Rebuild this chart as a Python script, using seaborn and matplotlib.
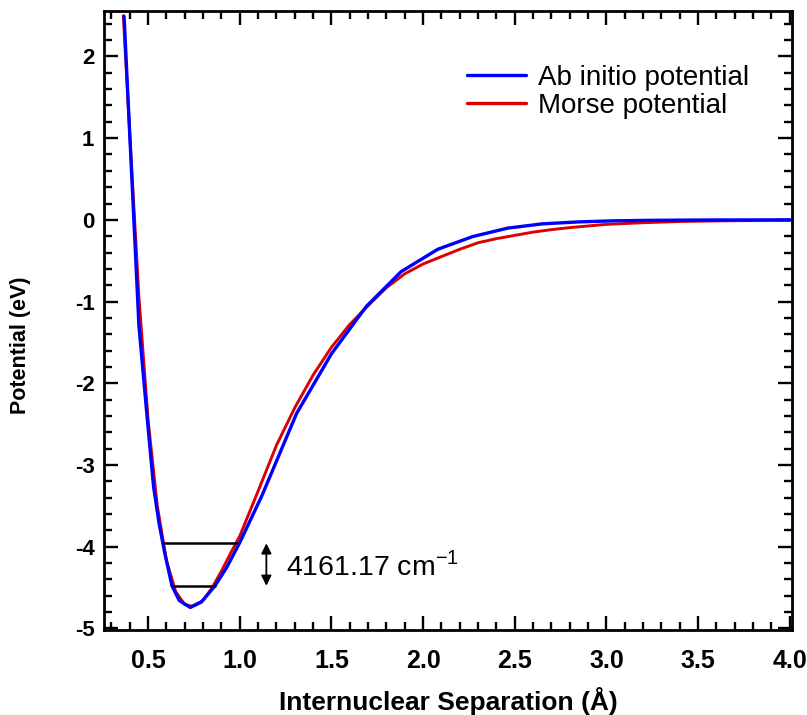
import matplotlib
matplotlib.use("Agg")
import matplotlib.pyplot as plt
from matplotlib.ticker import MultipleLocator
import seaborn as sns
import pandas as pd

# Ab initio potential (blue)
abinitio_r = [0.369, 0.45, 0.50, 0.53, 0.56, 0.59, 0.63, 0.67, 0.73, 0.79, 0.865, 0.93,
              1.00, 1.12, 1.31, 1.50, 1.69, 1.88, 2.08, 2.27, 2.46, 2.65, 2.85, 3.04,
              3.23, 3.50, 4.00]
abinitio_v = [2.49, -1.30, -2.55, -3.27, -3.72, -4.07, -4.48, -4.66, -4.745, -4.68, -4.48, -4.25,
              -3.95, -3.38, -2.37, -1.64, -1.06, -0.634, -0.36, -0.205, -0.102, -0.049, -0.025, -0.012,
              -0.006, -0.002, 0.0]

# Morse potential (red)
morse_r = [0.365, 0.40, 0.45, 0.50, 0.55, 0.60, 0.65, 0.70, 0.74, 0.80, 0.85, 0.90, 0.95,
           1.00, 1.10, 1.20, 1.30, 1.40, 1.50, 1.60, 1.70, 1.80, 1.90, 2.00, 2.10, 2.20,
           2.30, 2.40, 2.50, 2.60, 2.70, 2.80, 2.90, 3.00, 3.20, 3.40, 3.60, 3.80, 4.00]
morse_v = [2.50, 1.05, -0.95, -2.45, -3.50, -4.17, -4.55, -4.71, -4.73, -4.66, -4.50, -4.30, -4.08,
           -3.87, -3.32, -2.76, -2.30, -1.90, -1.56, -1.28, -1.05, -0.83, -0.66, -0.54, -0.45, -0.36,
           -0.28, -0.23, -0.19, -0.15, -0.12, -0.095, -0.075, -0.055, -0.035, -0.02, -0.013, -0.008, -0.005]

# Vibrational levels
level_v = [-4.478, -3.962]
level_x0 = [0.629, 0.583]
level_x1 = [0.865, 0.984]
annot_text = "4161.17 cm$^{-1}$"

xtick_vals = [0.5, 1.0, 1.5, 2.0, 2.5, 3.0, 3.5, 4.0]
xtick_labels = ["0.5", "1.0", "1.5", "2.0", "2.5", "3.0", "3.5", "4.0"]
ytick_vals = [-5, -4, -3, -2, -1, 0, 1, 2]
ytick_labels = ["-5", "-4", "-3", "-2", "-1", "0", "1", "2"]

sns.set_theme(style="ticks")
plt.rcParams['font.family'] = ['Liberation Sans', 'DejaVu Sans']
plt.rcParams['mathtext.fontset'] = 'custom'
plt.rcParams['mathtext.rm'] = 'Liberation Sans'
for k in ['text.color', 'axes.labelcolor', 'xtick.color', 'ytick.color', 'axes.edgecolor']:
    plt.rcParams[k] = 'black'

fig = plt.figure(figsize=(8.07, 7.15), dpi=100)
ax = fig.add_axes([0.129, 0.119, 0.852, 0.866])

df_a = pd.DataFrame({"r": abinitio_r, "V": abinitio_v})
df_m = pd.DataFrame({"r": morse_r, "V": morse_v})
sns.lineplot(data=df_a, x="r", y="V", color="#0000ff", lw=2.4, sort=False, ax=ax,
             label="Ab initio potential", zorder=3)
sns.lineplot(data=df_m, x="r", y="V", color="#dd0000", lw=2.1, sort=False, ax=ax,
             label="Morse potential", zorder=2)

for y, x0, x1 in zip(level_v, level_x0, level_x1):
    ax.plot([x0, x1], [y, y], color="black", lw=1.8, zorder=4)

ax.annotate("", xy=(1.145, -3.96), xytext=(1.145, -4.48),
            arrowprops=dict(arrowstyle="<|-|>", color="black", lw=1.3,
                            mutation_scale=15, shrinkA=0, shrinkB=0))
ax.text(1.25, -4.24, annot_text, fontsize=20.5, va="center", ha="left", color="black")

ax.set_xlim(0.26, 4.01)
ax.set_ylim(-5.02, 2.56)
ax.xaxis.set_minor_locator(MultipleLocator(0.1))
ax.yaxis.set_minor_locator(MultipleLocator(0.2))
ax.set_xticks(xtick_vals)
ax.set_xticklabels(xtick_labels)
ax.set_yticks(ytick_vals)
ax.set_yticklabels(ytick_labels)

ax.tick_params(which="both", direction="in", top=True, right=True, color="black", width=1.7)
ax.tick_params(which="major", length=10)
ax.tick_params(which="minor", length=6)
ax.tick_params(axis="x", which="major", labelsize=18, pad=14)
ax.tick_params(axis="y", which="major", labelsize=16, pad=7)
for lab in ax.get_xticklabels() + ax.get_yticklabels():
    lab.set_fontweight("bold")
for s in ax.spines.values():
    s.set_linewidth(2.0)
    s.set_color("black")

ax.set_xlabel("Internuclear Separation (Å)", fontsize=19, fontweight="bold", labelpad=10)
ax.set_ylabel("Potential (eV)", fontsize=15.5, fontweight="bold")
ax.yaxis.set_label_coords(-0.106, 0.46)

leg = ax.legend(loc="upper left", frameon=False, fontsize=20, handlelength=2.1,
                handletextpad=0.45, borderaxespad=0, borderpad=0.4, labelspacing=0.08,
                bbox_to_anchor=(0.512, 0.931))
for h in leg.get_lines():
    h.set_linewidth(2.4)

fig.savefig("out.png", dpi=100)
